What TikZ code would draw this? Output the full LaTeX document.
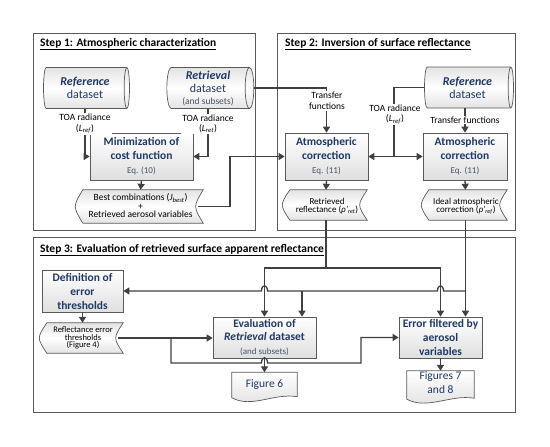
\documentclass[tikz,border=0pt]{standalone}
\usepackage{fontspec}
\setmainfont{Carlito}
\usetikzlibrary{shapes.geometric,arrows.meta,calc,shadows}
\definecolor{navy}{HTML}{1F3864}
\definecolor{eqc}{HTML}{44546A}
\definecolor{linec}{HTML}{404040}
\definecolor{boxb}{HTML}{5A5A5A}
\tikzset{
  frame/.style={draw=boxb, line width=0.8pt},
  box/.style={draw=boxb, line width=0.7pt, top color=white, bottom color=gray!25, align=center, inner sep=1pt, text=navy, font=\fontsize{11.5}{13.5}\selectfont\bfseries, drop shadow={opacity=0.25, shadow xshift=1.2pt, shadow yshift=-1.2pt}},
  cyl/.style={cylinder, shape aspect=0.25, draw=boxb, line width=0.7pt, top color=gray!22, bottom color=gray!22, middle color=white, align=center, text=navy, font=\fontsize{12}{13}\selectfont, inner sep=0pt},
  sdbase/.style={inner sep=0pt},
  lab/.style={fill=white, align=center, inner sep=1pt, font=\fontsize{9.5}{10.5}\selectfont},
  plain/.style={align=center, inner sep=0pt, font=\fontsize{9}{8.5}\selectfont},
  docbase/.style={inner sep=0pt},
  doctext/.style={align=center, inner sep=0pt, text=navy, font=\fontsize{11.5}{13}\selectfont},
  arr/.style={draw=linec, line width=1.3pt, -{Triangle[length=6pt,width=7pt]}},
  ln/.style={draw=linec, line width=1.3pt},
  title/.style={anchor=west, font=\fontsize{11.5}{13}\selectfont\bfseries, inner sep=0pt},
  sdfill/.style={draw=boxb, line width=0.7pt, top color=gray!22, bottom color=gray!22, middle color=white},
  docfill/.style={draw=boxb, line width=0.7pt, top color=white, bottom color=gray!25}
}
\newcommand{\eqfont}{\mdseries\fontsize{9}{10}\selectfont\color{eqc}}
\newcommand{\storeddata}[1]{%
  \path[sdfill] ([xshift=5pt]#1.north west) -- (#1.north east)
    .. controls ([xshift=-10pt]#1.east) .. (#1.south east)
    -- ([xshift=5pt]#1.south west)
    .. controls ([xshift=-5pt]#1.west) .. cycle;}
\newcommand{\docshape}[1]{%
  \path[docfill] (#1.north west) -- (#1.north east) -- ([yshift=5pt]#1.south east)
    .. controls ($(#1.south east)!0.35!(#1.south west)+(0,9pt)$) and ($(#1.south east)!0.7!(#1.south west)+(0,-7pt)$) .. ([yshift=4pt]#1.south west) -- cycle;}
\begin{document}
\begin{tikzpicture}[x=1pt,y=-1pt]
\useasboundingbox (0,0) rectangle (550,447);
% frames
\draw[frame] (33,33) rectangle (255,230);
\draw[frame] (277,33) rectangle (515,230);
\draw[frame] (33,237) rectangle (515,412);
\node[title] (t1) at (40,44) {\underline{Step 1: Atmospheric characterization}};
\node[title] (t2) at (285,44) {\underline{Step 2: Inversion of surface reflectance}};
\node[title] (t3) at (40,250) {\underline{Step 3: Evaluation of retrieved surface apparent reflectance}};

% ---------- Step 1
\node[cyl, minimum height=86pt, minimum width=41pt] (ref1) at (85,88) {\textbf{\textit{Reference}}\\dataset};
\node[cyl, minimum height=87pt, minimum width=41pt] (ret1) at (208,88) {\textbf{\textit{Retrieval}}\\dataset\\[-1pt]{\fontsize{9.5}{10}\selectfont\color{eqc}(and subsets)}};
\node[box, minimum width=103pt, minimum height=47pt] (mini) at (141.5,156.5) {Minimization of\\cost function\\[1pt]{\eqfont Eq. (10)}};
\node[sdbase, minimum width=125pt, minimum height=33pt] (best) at (140.5,206.5) {};
\storeddata{best}
\node[plain, font=\fontsize{9.5}{8.5}\selectfont] (bestT) at (140.5,206) {Best combinations (\textit{J}\textsubscript{\textit{best}})\\+\\Retrieved aerosol variables};

\draw[arr] (ref1.south) |- (mini.west);
\draw[arr] (ret1.south) |- (mini.east);
\node[lab] (toa1) at (ref1.south |- 0,124) {TOA radiance\\(\textit{L}\textsubscript{\textit{ref}})};
\node[lab] (toa2) at (ret1.south |- 0,124) {TOA radiance\\(\textit{L}\textsubscript{\textit{ret}})};
\draw[arr] (mini.south) -- (best.north);

% ---------- Step 2
\node[box, minimum width=83pt, minimum height=47pt] (ac1) at (326.5,156.5) {Atmospheric\\correction\\[1pt]{\eqfont Eq. (11)}};
\node[sdbase, minimum width=82pt, minimum height=30pt] (retr) at (326,205) {};
\storeddata{retr}
\node[plain] (retrT) at (327,206) {Retrieved\\reflectance (\textit{ρ'}\textsubscript{\textit{ret}})};
\node[cyl, minimum height=89pt, minimum width=41pt] (ref2) at (467.5,87.5) {\textbf{\textit{Reference}}\\dataset};
\node[box, minimum width=84pt, minimum height=47pt] (ac2) at (465,156.5) {Atmospheric\\correction\\[1pt]{\eqfont Eq. (11)}};
\node[sdbase, minimum width=83pt, minimum height=30pt] (ideal) at (465.5,205) {};
\storeddata{ideal}
\node[plain] (idealT) at (466,206) {Ideal atmospheric\\correction (\textit{ρ'}\textsubscript{\textit{ref}})};

\coordinate (k1) at (230,206.5);
\draw[arr] ([xshift=-5pt]best.east) -- (k1) |- (ac1.west);
\draw[arr] (ret1.east) -| (ac1.north);
\node[lab] (tf1) at (327,101) {Transfer\\functions};
\coordinate (j2) at (394,156.5);
\draw[ln] (ref2.west) -| (j2);
\draw[arr] (j2) -- (ac1.east);
\draw[arr] (j2) -- (ac2.west);
\node[lab] (toa3) at (395,114.5) {TOA radiance\\(\textit{L}\textsubscript{\textit{ref}})};
\draw[arr] (ac2.north |- ref2.south) -- (ac2.north);
\node[lab] (tf2) at (465,120) {Transfer functions};
\draw[arr] (ac1.south) -- (retr.north);
\draw[arr] (ac2.south) -- (ideal.north);

% ---------- Step 3
\node[box, minimum width=81pt, minimum height=42pt, font=\fontsize{11.5}{14}\selectfont\bfseries] (defn) at (82.5,291) {Definition of\\error\\thresholds};
\node[sdbase, minimum width=81pt, minimum height=30pt] (refl) at (82.5,338) {};
\storeddata{refl}
\node[plain, font=\fontsize{8.5}{7.5}\selectfont] (reflT) at (83,338) {Reflectance error\\thresholds\\(Figure 4)};
\node[box, minimum width=103pt, minimum height=41pt] (eval) at (264.5,337.5) {Evaluation of\\\textit{Retrieval} dataset\\[0pt]{\eqfont (and subsets)}};
\node[docbase, minimum width=65pt, minimum height=29pt] (fig6) at (264.5,387) {};
\docshape{fig6}
\node[doctext] (fig6T) at (264.5,385) {Figure 6};
\node[box, minimum width=83pt, minimum height=41pt, font=\fontsize{11.5}{14}\selectfont\bfseries] (errf) at (440.5,337.5) {Error filtered by\\aerosol\\variables};
\node[docbase, minimum width=67pt, minimum height=32pt] (fig78) at (440.5,387) {};
\docshape{fig78}
\node[doctext, font=\fontsize{11.5}{14}\selectfont] (fig78T) at (440.5,383) {Figures 7\\and 8};

\coordinate (j3) at (retr.south |- 0,268);
\draw[ln] (retr.south) -- (j3);
\draw[arr] (j3) -| (errf.north);
\draw[arr] (j3) -| (eval.north);
\draw[arr] (ideal.south) -- (ideal.south |- errf.north);
\coordinate (j4) at (ideal.south |- 0,291);
\draw[arr] (j4) -- (443.5,291) .. controls (443.5,284) and (437.5,284) .. (437.5,291)
  -- (267.5,291) .. controls (267.5,284) and (261.5,284) .. (261.5,291) -- (defn.east);
\coordinate (j5) at (302,291);
\draw[arr] (j5) -- (j5 |- eval.north);
\draw[arr] (defn.south) -- (refl.north);
\draw[arr] ([xshift=-5pt]refl.east) -- (eval.west |- refl.east);
\coordinate (j6) at (171,338);
\coordinate (j7) at (361,363);
\draw[arr] (j6) -- (171,363) -- (261.5,363) .. controls (261.5,356) and (267.5,356) .. (267.5,363) -- (j7) |- (errf.west);
\draw[arr] (eval.south) -- (fig6.north);
\draw[arr] (errf.south) -- (fig78.north);
\end{tikzpicture}
\end{document}
